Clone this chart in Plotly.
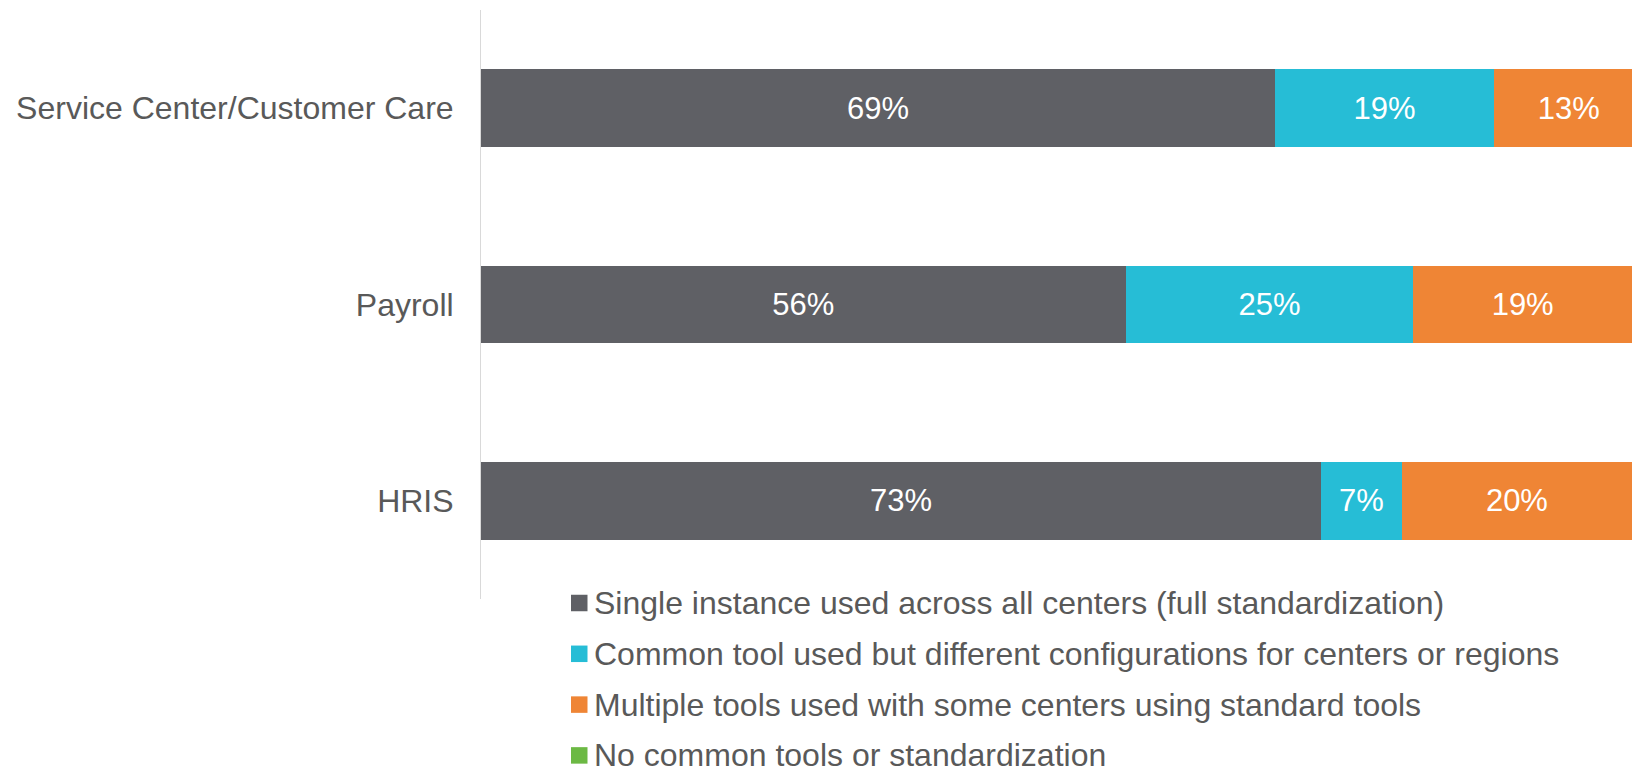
import plotly.graph_objects as go

# Survey data: share of respondents per standardization level, by function
categories = ["Service Center/Customer Care", "Payroll", "HRIS"]
series_names = [
    "Single instance used across all centers (full standardization)",
    "Common tool used but different configurations for centers or regions",
    "Multiple tools used with some centers using standard tools",
    "No common tools or standardization",
]
single_instance = [69, 56, 73]
common_tool = [19, 25, 7]
multiple_tools = [13, 19, 20]
no_common = [0, 0, 0]

series_values = [single_instance, common_tool, multiple_tools, no_common]
colors = ["#5f6065", "#26bdd6", "#ef8535", "#6cb944"]

FONT = "Liberation Sans, Arial, sans-serif"
TEXT_GRAY = "#595959"

FIG_W, FIG_H = 1632, 768
PLOT_L, PLOT_T, PLOT_B = 481, 10, 599


def px_to_paper_x(px):
    return (px - PLOT_L) / (FIG_W - PLOT_L)


def px_to_paper_y(py):
    return (PLOT_B - py) / (PLOT_B - PLOT_T)


fig = go.Figure()
for name, vals, col in zip(series_names, series_values, colors):
    fig.add_trace(go.Bar(
        y=categories,
        x=vals,
        name=name,
        orientation="h",
        marker=dict(color=col, line=dict(width=0)),
        text=[f"{v}%" if v > 0 else "" for v in vals],
        textposition="inside",
        insidetextanchor="middle",
        textangle=0,
        textfont=dict(color="white", size=31, family=FONT),
        showlegend=False,
        hoverinfo="skip",
    ))

# Legend stacked below the plot: square swatch + label per series
legend_top = 603
legend_step = 50.8
swatch = 16.5
for i, (name, col) in enumerate(zip(series_names, colors)):
    cy = legend_top + i * legend_step
    fig.add_shape(
        type="rect", xref="paper", yref="paper",
        x0=px_to_paper_x(571), x1=px_to_paper_x(571 + swatch),
        y0=px_to_paper_y(cy + swatch / 2), y1=px_to_paper_y(cy - swatch / 2),
        fillcolor=col, line=dict(width=0),
    )
    fig.add_annotation(
        xref="paper", yref="paper",
        x=px_to_paper_x(593), y=px_to_paper_y(cy),
        xanchor="left", yanchor="middle",
        text=name, showarrow=False, borderpad=0,
        font=dict(size=32, color=TEXT_GRAY, family=FONT),
    )

fig.update_layout(
    width=FIG_W,
    height=FIG_H,
    barmode="stack",
    bargap=0.603,
    plot_bgcolor="white",
    paper_bgcolor="white",
    margin=dict(l=PLOT_L, r=0, t=PLOT_T, b=FIG_H - PLOT_B),
    font=dict(family=FONT, color=TEXT_GRAY, size=32),
    showlegend=False,
    xaxis=dict(
        range=[0, 100],
        visible=False,
        showgrid=False,
        zeroline=False,
    ),
    yaxis=dict(
        categoryorder="array",
        categoryarray=categories,
        autorange="reversed",
        showline=True,
        linecolor="#d9d9d9",
        linewidth=1,
        showgrid=False,
        zeroline=False,
        ticks="",
        ticklabelstandoff=20,
        tickfont=dict(size=32, color=TEXT_GRAY, family=FONT),
    ),
)

fig.write_html("out.html")
